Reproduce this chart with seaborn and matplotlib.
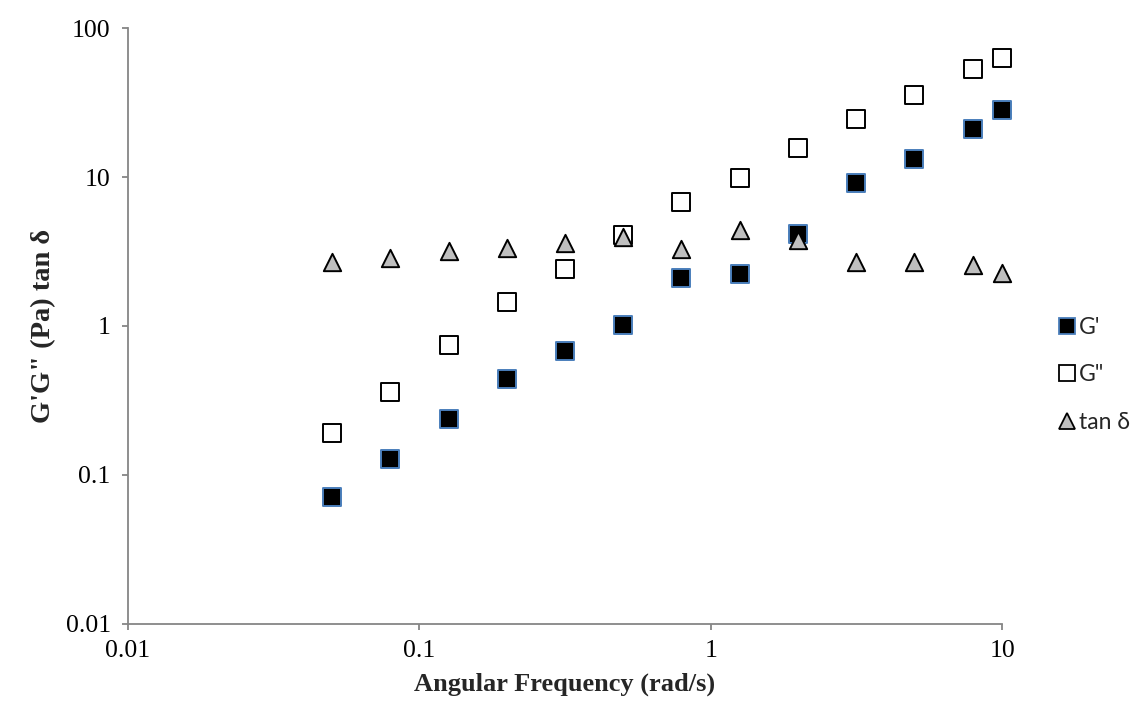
import numpy as np
import pandas as pd
import matplotlib
matplotlib.use("Agg")
import matplotlib.pyplot as plt
from matplotlib.ticker import FixedLocator, FuncFormatter, NullLocator
from matplotlib.lines import Line2D
import seaborn as sns

freq = [0.05, 0.0792, 0.126, 0.2, 0.316, 0.5, 0.792, 1.26, 2.0, 3.16, 5.0, 7.92, 10.0]
g_prime = [0.0715, 0.129, 0.237, 0.439, 0.683, 1.01, 2.11, 2.23, 4.15, 9.07, 13.3, 20.9, 28.0]
g_double = [0.19, 0.362, 0.741, 1.46, 2.40, 4.08, 6.83, 9.9, 15.6, 24.4, 35.3, 53.0, 62.6]
tan_delta = [2.68, 2.84, 3.18, 3.36, 3.58, 3.98, 3.27, 4.44, 3.75, 2.68, 2.68, 2.57, 2.26]
series_names = ["G'", 'G"', "tan δ"]
x_ticks = [0.01, 0.1, 1, 10]
y_ticks = [0.01, 0.1, 1, 10, 100]

df = pd.DataFrame({"freq": freq, "G'": g_prime, 'G"': g_double, "tan δ": tan_delta})

sns.set_theme(style="white")
plt.rcParams["font.family"] = ["Liberation Serif", "DejaVu Serif"]

fig = plt.figure(figsize=(11.4, 7.11), dpi=100)
ax = fig.add_axes([0.1123, 0.1224, 0.879 - 0.1123, 0.9606 - 0.1224])

styles = {
    "G'": dict(marker="s", color="black", edgecolor="#4a7ebb"),
    'G"': dict(marker="s", color="white", edgecolor="black"),
    "tan δ": dict(marker="^", color="#bfbfbf", edgecolor="black"),
}
ms = 12.5
for name in series_names:
    st = styles[name]
    sns.scatterplot(data=df, x="freq", y=name, ax=ax, marker=st["marker"],
                    color=st["color"], edgecolor=st["edgecolor"], linewidth=1.4,
                    s=ms ** 2, zorder=3, legend=False, clip_on=False)

ax.set_xscale("log")
ax.set_yscale("log")
ax.set_xlim(0.01, 10)
ax.set_ylim(0.01, 100)
fmt = FuncFormatter(lambda v, p: "%g" % v)
ax.xaxis.set_major_locator(FixedLocator(x_ticks))
ax.yaxis.set_major_locator(FixedLocator(y_ticks))
ax.xaxis.set_major_formatter(fmt)
ax.yaxis.set_major_formatter(fmt)
ax.xaxis.set_minor_locator(NullLocator())
ax.yaxis.set_minor_locator(NullLocator())

for side in ["top", "right"]:
    ax.spines[side].set_visible(False)
for side in ["left", "bottom"]:
    ax.spines[side].set_color("#868686")
    ax.spines[side].set_linewidth(1.3)
ax.tick_params(axis="both", which="major", direction="out", length=4.5, width=1.3,
               color="#868686", labelsize=18.5, bottom=True, left=True, labelcolor="black")
ax.tick_params(axis="y", pad=8)
ax.tick_params(axis="x", pad=7)

ax.set_xlabel("Angular Frequency (rad/s)", fontsize=19, fontweight="bold", labelpad=8)
ax.set_ylabel("G'G\" (Pa) tan δ", fontsize=20.5, fontweight="bold", labelpad=7)

handles = []
for name in series_names:
    st = styles[name]
    handles.append(Line2D([], [], linestyle="none", marker=st["marker"],
                          markerfacecolor=st["color"], markeredgecolor=st["edgecolor"],
                          markeredgewidth=1.3, markersize=11, label=name))
leg = fig.legend(handles=handles, loc="upper left", bbox_to_anchor=(0.912, 0.583),
                 frameon=False, handlelength=0.6, handletextpad=0.2, labelspacing=1.15,
                 prop={"family": ["Lato", "DejaVu Sans"], "size": 16.5})

fig.savefig("out.png", dpi=100)
